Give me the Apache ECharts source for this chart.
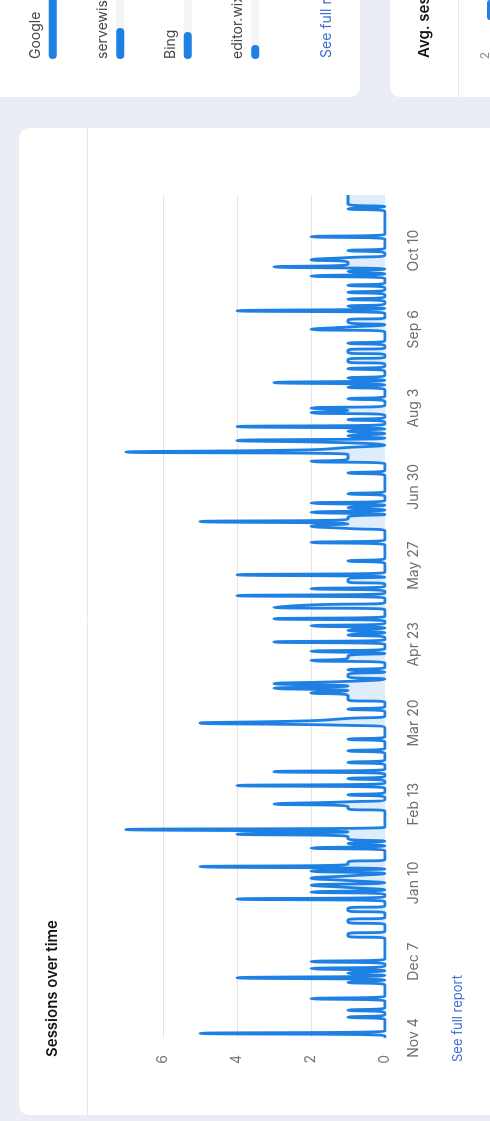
<!DOCTYPE html>
<html>
<head>
<meta charset="utf-8">
<script src="https://cdn.jsdelivr.net/npm/echarts@6/dist/echarts.min.js"></script>
<style>
  html, body { margin: 0; padding: 0; width: 490px; height: 1121px; overflow: hidden; background: #eaeef4; }
  #wrap { position: absolute; left: 0; top: 0; width: 1400px; height: 700px;
          transform-origin: 0 0; transform: translate(0px, 1121px) rotate(-90deg); }
</style>
</head>
<body>
<div id="wrap"></div>
<script>
// ---- data ----
const MONTHS = ['Jan','Feb','Mar','Apr','May','Jun','Jul','Aug','Sep','Oct','Nov','Dec'];
const startYear = 2022, startMonth = 10, startDay = 4, dayCount = 365;
const categories = [];
for (let i = 0; i < dayCount; i++) {
  const d = new Date(Date.UTC(startYear, startMonth, startDay + i));
  categories.push(MONTHS[d.getUTCMonth()] + ' ' + d.getUTCDate());
}
const tickLabels = ['Nov 4','Dec 7','Jan 10','Feb 13','Mar 20','Apr 23','May 27','Jun 30','Aug 3','Sep 6','Oct 10'];
const sessions = [
  0,0,5,0,0,0,0,0,0,1,
  0,0,1,0,0,0,0,2,0,0,
  0,0,0,0,1,0,4,0,1,0,
  2,0,0,2,0,0,0,0,0,0,
  0,0,0,0,1,1,0,0,0,0,
  1,1,0,0,0,1,1,0,0,0,
  4,0,0,2,0,1,2,0,1,2,
  1,0,2,0,5,1,1,0,0,0,
  0,0,2,0,1,0,1,1,4,1,
  7,0,0,0,0,0,0,0,0,1,
  1,3,1,0,0,1,0,0,0,4,
  0,0,1,0,0,3,0,0,0,1,
  0,0,0,0,1,0,0,0,0,1,
  0,0,0,0,0,1,5,2,1,0,
  0,0,1,0,0,0,1,1,1,2,
  1,3,1,3,1,0,1,1,0,1,
  0,0,0,2,1,1,0,2,0,0,
  0,3,0,0,1,0,1,0,2,0,
  0,3,0,0,0,0,3,2,0,0,
  0,4,0,0,2,0,0,1,1,0,
  4,0,0,0,0,0,1,0,0,0,
  0,0,0,0,2,0,0,0,0,0,
  1,2,1,5,1,1,0,2,0,1,
  0,2,0,0,0,1,0,0,0,0,
  0,0,0,0,1,0,0,0,0,2,
  1,1,1,7,2,1,0,1,4,0,
  1,0,1,0,4,0,0,1,0,0,
  2,1,2,0,0,0,1,0,0,0,
  0,1,0,3,0,1,0,0,0,1,
  0,0,1,1,0,0,1,1,0,0,
  1,0,0,0,0,0,2,1,0,1,
  1,0,0,0,4,0,1,0,0,1,
  0,0,1,0,0,1,0,0,0,2,
  0,1,0,3,1,1,2,1,0,0,
  1,0,0,0,0,0,2,0,0,0,
  0,0,0,0,0,0,0,0,1,0,
  1,1,1,1,1
];
const sourceNames = ['Google','servewise.com','Bing','editor.wix.com'];
const sourceValues = [80, 15.5, 13.5, 7];
const durationDays = ['1','2','3','4','5','6','7'];
const durationValues = [1.96, 1.2, 1.5, 0.8, 1.1, 1.4, 0.9];

// ---- chart ----
const BLUE = '#1f80e4';
const FONT = 'Inter, "Open Sans", sans-serif';
const chart = echarts.init(document.getElementById('wrap'), null, { width: 1400, height: 700, renderer: 'canvas' });

chart.setOption({
  animation: false,
  backgroundColor: 'transparent',
  textStyle: { fontFamily: FONT },
  graphic: { elements: [
    { type: 'rect', z: 0, shape: { x: 6, y: 19, width: 987, height: 560, r: 10 }, style: { fill: '#ffffff' } },
    { type: 'line', z: 1, shape: { x1: 6, y1: 87.5, x2: 993, y2: 87.5 }, style: { stroke: '#e8e9ec', lineWidth: 1 } },
    { type: 'text', z: 10, x: 64, y: 52, style: { text: 'Sessions over time', font: '600 15px ' + FONT, fill: '#151515', align: 'left', verticalAlign: 'middle' } },
    { type: 'text', z: 10, x: 59, y: 458, style: { text: 'See full report', font: '13px ' + FONT, fill: '#3d6fd6', align: 'left', verticalAlign: 'middle' } },

    { type: 'rect', z: 0, shape: { x: 1024, y: -30, width: 300, height: 390, r: 10 }, style: { fill: '#ffffff' } },
    { type: 'text', z: 10, x: 1063, y: 327, style: { text: 'See full report', font: '14px ' + FONT, fill: '#3d6fd6', align: 'left', verticalAlign: 'middle' } },

    { type: 'rect', z: 0, shape: { x: 1024, y: 390, width: 300, height: 260, r: 10 }, style: { fill: '#ffffff' } },
    { type: 'text', z: 10, x: 1063, y: 424, style: { text: 'Avg. session duration', font: '600 15px ' + FONT, fill: '#151515', align: 'left', verticalAlign: 'middle' } },
    { type: 'line', z: 1, shape: { x1: 1024, y1: 458.5, x2: 1324, y2: 458.5 }, style: { stroke: '#e8e9ec', lineWidth: 1 } }
  ] },
  grid: [
    { left: 83, width: 843, top: 89, height: 296 },
    { left: 1062, width: 200, top: 19, height: 270 },
    { left: 1093, width: 252, top: 485, height: 100 }
  ],
  xAxis: [
    { gridIndex: 0, type: 'category', data: categories, boundaryGap: false,
      axisLine: { show: false }, axisTick: { show: false },
      axisLabel: { interval: (i, v) => tickLabels.indexOf(v) >= 0, margin: 22, fontSize: 14, color: '#6e6e6e', fontFamily: FONT },
      splitLine: { show: false } },
    { gridIndex: 1, type: 'value', min: 0, max: 100, show: false },
    { gridIndex: 2, type: 'category', data: durationDays, show: false }
  ],
  yAxis: [
    { gridIndex: 0, type: 'value', min: 0, max: 8, interval: 2,
      axisLine: { show: false }, axisTick: { show: false },
      axisLabel: { margin: 17, fontSize: 14, color: '#7a7a7a', fontFamily: FONT, showMaxLabel: false },
      splitLine: { show: true, showMinLine: false, showMaxLine: false, lineStyle: { color: '#e3e4e7', width: 1 } } },
    { gridIndex: 1, type: 'category', data: sourceNames, inverse: true, show: false },
    { gridIndex: 2, type: 'value', min: 0, max: 2, interval: 2,
      axisLine: { show: false }, axisTick: { show: false }, splitLine: { show: false },
      axisLabel: { margin: 24, fontSize: 12, color: '#8a8a8a', fontFamily: FONT, showMinLabel: false } }
  ],
  series: [
    { type: 'line', xAxisIndex: 0, yAxisIndex: 0, data: sessions, smooth: true, symbol: 'none',
      lineStyle: { width: 2.8, color: BLUE }, itemStyle: { color: BLUE },
      areaStyle: { color: 'rgba(31,128,228,0.2)' } },
    { type: 'bar', xAxisIndex: 1, yAxisIndex: 1, data: sourceValues, barWidth: 8,
      itemStyle: { color: BLUE, borderRadius: 4 },
      showBackground: true, backgroundStyle: { color: '#f3f4f7', borderRadius: 4 },
      label: { show: true, formatter: '{b}', position: [0, -13], align: 'left', verticalAlign: 'middle',
               fontSize: 14, color: '#474747', fontFamily: FONT } },
    { type: 'bar', xAxisIndex: 2, yAxisIndex: 2, data: durationValues, barWidth: 20,
      itemStyle: { color: BLUE, borderRadius: [3, 3, 0, 0] } }
  ]
});
</script>
</body>
</html>
